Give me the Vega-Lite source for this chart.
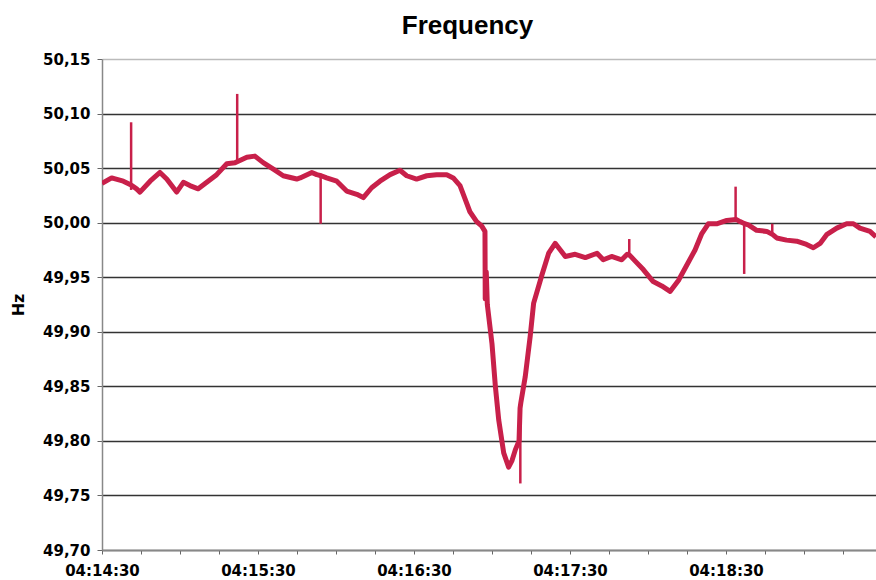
{
  "$schema": "https://vega.github.io/schema/vega-lite/v6.json",
  "autosize": {"type": "none"},
  "width": 774,
  "height": 491,
  "padding": {"left": 102, "top": 59, "right": 0, "bottom": 30},
  "background": "white",
  "title": {"text": "Frequency", "font": "Liberation Sans", "fontSize": 26, "fontWeight": "bold", "color": "black", "anchor": "middle", "dx": -21.5, "offset": 13},
  "config": {"view": {"stroke": null}},
  "datasets": {
    "freq": [
      {"t": "2024-01-01T04:14:30.000", "hz": 50.036},
      {"t": "2024-01-01T04:14:33.700", "hz": 50.041},
      {"t": "2024-01-01T04:14:38.200", "hz": 50.038},
      {"t": "2024-01-01T04:14:40.800", "hz": 50.035},
      {"t": "2024-01-01T04:14:41.500", "hz": 50.034},
      {"t": "2024-01-01T04:14:43.300", "hz": 50.031},
      {"t": "2024-01-01T04:14:44.600", "hz": 50.028},
      {"t": "2024-01-01T04:14:48.500", "hz": 50.038},
      {"t": "2024-01-01T04:14:52.300", "hz": 50.046},
      {"t": "2024-01-01T04:14:54.900", "hz": 50.040},
      {"t": "2024-01-01T04:14:58.700", "hz": 50.028},
      {"t": "2024-01-01T04:15:01.300", "hz": 50.037},
      {"t": "2024-01-01T04:15:03.800", "hz": 50.034},
      {"t": "2024-01-01T04:15:07.000", "hz": 50.031},
      {"t": "2024-01-01T04:15:10.300", "hz": 50.037},
      {"t": "2024-01-01T04:15:14.100", "hz": 50.044},
      {"t": "2024-01-01T04:15:18.000", "hz": 50.054},
      {"t": "2024-01-01T04:15:21.200", "hz": 50.055},
      {"t": "2024-01-01T04:15:22.200", "hz": 50.056},
      {"t": "2024-01-01T04:15:25.700", "hz": 50.060},
      {"t": "2024-01-01T04:15:28.800", "hz": 50.061},
      {"t": "2024-01-01T04:15:32.000", "hz": 50.055},
      {"t": "2024-01-01T04:15:35.900", "hz": 50.049},
      {"t": "2024-01-01T04:15:39.700", "hz": 50.043},
      {"t": "2024-01-01T04:15:44.900", "hz": 50.040},
      {"t": "2024-01-01T04:15:46.200", "hz": 50.041},
      {"t": "2024-01-01T04:15:50.700", "hz": 50.046},
      {"t": "2024-01-01T04:15:52.600", "hz": 50.044},
      {"t": "2024-01-01T04:15:54.300", "hz": 50.043},
      {"t": "2024-01-01T04:15:56.400", "hz": 50.041},
      {"t": "2024-01-01T04:16:00.300", "hz": 50.038},
      {"t": "2024-01-01T04:16:04.100", "hz": 50.029},
      {"t": "2024-01-01T04:16:08.000", "hz": 50.026},
      {"t": "2024-01-01T04:16:10.500", "hz": 50.023},
      {"t": "2024-01-01T04:16:13.700", "hz": 50.032},
      {"t": "2024-01-01T04:16:16.900", "hz": 50.038},
      {"t": "2024-01-01T04:16:20.800", "hz": 50.044},
      {"t": "2024-01-01T04:16:24.600", "hz": 50.048},
      {"t": "2024-01-01T04:16:27.200", "hz": 50.043},
      {"t": "2024-01-01T04:16:31.000", "hz": 50.040},
      {"t": "2024-01-01T04:16:34.900", "hz": 50.043},
      {"t": "2024-01-01T04:16:38.700", "hz": 50.044},
      {"t": "2024-01-01T04:16:42.600", "hz": 50.044},
      {"t": "2024-01-01T04:16:45.100", "hz": 50.041},
      {"t": "2024-01-01T04:16:47.700", "hz": 50.034},
      {"t": "2024-01-01T04:16:49.600", "hz": 50.022},
      {"t": "2024-01-01T04:16:51.500", "hz": 50.010},
      {"t": "2024-01-01T04:16:54.100", "hz": 50.001},
      {"t": "2024-01-01T04:16:56.000", "hz": 49.997},
      {"t": "2024-01-01T04:16:57.300", "hz": 49.992},
      {"t": "2024-01-01T04:16:57.400", "hz": 49.930},
      {"t": "2024-01-01T04:16:57.800", "hz": 49.955},
      {"t": "2024-01-01T04:16:58.200", "hz": 49.925},
      {"t": "2024-01-01T04:17:00.000", "hz": 49.889},
      {"t": "2024-01-01T04:17:01.300", "hz": 49.850},
      {"t": "2024-01-01T04:17:02.600", "hz": 49.819},
      {"t": "2024-01-01T04:17:04.500", "hz": 49.789},
      {"t": "2024-01-01T04:17:06.400", "hz": 49.776},
      {"t": "2024-01-01T04:17:07.700", "hz": 49.782},
      {"t": "2024-01-01T04:17:09.000", "hz": 49.792},
      {"t": "2024-01-01T04:17:10.400", "hz": 49.800},
      {"t": "2024-01-01T04:17:10.800", "hz": 49.830},
      {"t": "2024-01-01T04:17:11.100", "hz": 49.835},
      {"t": "2024-01-01T04:17:12.800", "hz": 49.859},
      {"t": "2024-01-01T04:17:14.700", "hz": 49.896},
      {"t": "2024-01-01T04:17:16.000", "hz": 49.926},
      {"t": "2024-01-01T04:17:19.200", "hz": 49.952},
      {"t": "2024-01-01T04:17:21.800", "hz": 49.972},
      {"t": "2024-01-01T04:17:24.300", "hz": 49.981},
      {"t": "2024-01-01T04:17:26.300", "hz": 49.975},
      {"t": "2024-01-01T04:17:28.200", "hz": 49.969},
      {"t": "2024-01-01T04:17:32.000", "hz": 49.971},
      {"t": "2024-01-01T04:17:35.900", "hz": 49.968},
      {"t": "2024-01-01T04:17:40.400", "hz": 49.972},
      {"t": "2024-01-01T04:17:42.800", "hz": 49.966},
      {"t": "2024-01-01T04:17:46.000", "hz": 49.969},
      {"t": "2024-01-01T04:17:49.900", "hz": 49.966},
      {"t": "2024-01-01T04:17:52.000", "hz": 49.971},
      {"t": "2024-01-01T04:17:53.000", "hz": 49.970},
      {"t": "2024-01-01T04:17:55.000", "hz": 49.965},
      {"t": "2024-01-01T04:17:58.200", "hz": 49.957},
      {"t": "2024-01-01T04:18:02.000", "hz": 49.946},
      {"t": "2024-01-01T04:18:05.300", "hz": 49.942},
      {"t": "2024-01-01T04:18:08.500", "hz": 49.937},
      {"t": "2024-01-01T04:18:11.700", "hz": 49.947},
      {"t": "2024-01-01T04:18:14.900", "hz": 49.961},
      {"t": "2024-01-01T04:18:18.100", "hz": 49.975},
      {"t": "2024-01-01T04:18:20.700", "hz": 49.990},
      {"t": "2024-01-01T04:18:23.200", "hz": 49.999},
      {"t": "2024-01-01T04:18:26.400", "hz": 49.999},
      {"t": "2024-01-01T04:18:30.300", "hz": 50.002},
      {"t": "2024-01-01T04:18:33.900", "hz": 50.003},
      {"t": "2024-01-01T04:18:35.400", "hz": 50.001},
      {"t": "2024-01-01T04:18:37.200", "hz": 49.999},
      {"t": "2024-01-01T04:18:38.600", "hz": 49.998},
      {"t": "2024-01-01T04:18:41.800", "hz": 49.993},
      {"t": "2024-01-01T04:18:45.700", "hz": 49.992},
      {"t": "2024-01-01T04:18:48.000", "hz": 49.989},
      {"t": "2024-01-01T04:18:49.500", "hz": 49.986},
      {"t": "2024-01-01T04:18:53.300", "hz": 49.984},
      {"t": "2024-01-01T04:18:57.200", "hz": 49.983},
      {"t": "2024-01-01T04:19:01.000", "hz": 49.980},
      {"t": "2024-01-01T04:19:03.600", "hz": 49.977},
      {"t": "2024-01-01T04:19:06.200", "hz": 49.981},
      {"t": "2024-01-01T04:19:08.700", "hz": 49.989},
      {"t": "2024-01-01T04:19:12.600", "hz": 49.995},
      {"t": "2024-01-01T04:19:16.400", "hz": 49.999},
      {"t": "2024-01-01T04:19:19.000", "hz": 49.999},
      {"t": "2024-01-01T04:19:21.500", "hz": 49.995},
      {"t": "2024-01-01T04:19:25.400", "hz": 49.992},
      {"t": "2024-01-01T04:19:27.700", "hz": 49.987}
    ],
    "spikes": [
      {"t": "2024-01-01T04:14:41.200", "lo": 50.030, "hi": 50.092},
      {"t": "2024-01-01T04:15:22.000", "lo": 50.055, "hi": 50.118},
      {"t": "2024-01-01T04:15:54.100", "lo": 49.999, "hi": 50.044},
      {"t": "2024-01-01T04:17:10.900", "lo": 49.761, "hi": 49.830},
      {"t": "2024-01-01T04:17:52.800", "lo": 49.970, "hi": 49.985},
      {"t": "2024-01-01T04:18:33.700", "lo": 50.003, "hi": 50.033},
      {"t": "2024-01-01T04:18:37.000", "lo": 49.953, "hi": 50.000},
      {"t": "2024-01-01T04:18:47.800", "lo": 49.989, "hi": 49.999}
    ]
  },
  "layer": [
    {
      "data": {"name": "freq"},
      "mark": {"type": "line", "color": "#C8204A", "strokeWidth": 5, "strokeJoin": "round", "clip": true},
      "encoding": {
        "x": {
          "field": "t", "type": "temporal",
          "scale": {"domain": [
            {"year": 2024, "month": 1, "date": 1, "hours": 4, "minutes": 14, "seconds": 30},
            {"year": 2024, "month": 1, "date": 1, "hours": 4, "minutes": 19, "seconds": 27, "milliseconds": 700}
          ], "nice": false},
          "axis": {
            "title": null, "grid": false,
            "values": [
              {"year": 2024, "month": 1, "date": 1, "hours": 4, "minutes": 14, "seconds": 30},
              {"year": 2024, "month": 1, "date": 1, "hours": 4, "minutes": 14, "seconds": 45},
              {"year": 2024, "month": 1, "date": 1, "hours": 4, "minutes": 15, "seconds": 0},
              {"year": 2024, "month": 1, "date": 1, "hours": 4, "minutes": 15, "seconds": 15},
              {"year": 2024, "month": 1, "date": 1, "hours": 4, "minutes": 15, "seconds": 30},
              {"year": 2024, "month": 1, "date": 1, "hours": 4, "minutes": 15, "seconds": 45},
              {"year": 2024, "month": 1, "date": 1, "hours": 4, "minutes": 16, "seconds": 0},
              {"year": 2024, "month": 1, "date": 1, "hours": 4, "minutes": 16, "seconds": 15},
              {"year": 2024, "month": 1, "date": 1, "hours": 4, "minutes": 16, "seconds": 30},
              {"year": 2024, "month": 1, "date": 1, "hours": 4, "minutes": 16, "seconds": 45},
              {"year": 2024, "month": 1, "date": 1, "hours": 4, "minutes": 17, "seconds": 0},
              {"year": 2024, "month": 1, "date": 1, "hours": 4, "minutes": 17, "seconds": 15},
              {"year": 2024, "month": 1, "date": 1, "hours": 4, "minutes": 17, "seconds": 30},
              {"year": 2024, "month": 1, "date": 1, "hours": 4, "minutes": 17, "seconds": 45},
              {"year": 2024, "month": 1, "date": 1, "hours": 4, "minutes": 18, "seconds": 0},
              {"year": 2024, "month": 1, "date": 1, "hours": 4, "minutes": 18, "seconds": 15},
              {"year": 2024, "month": 1, "date": 1, "hours": 4, "minutes": 18, "seconds": 30},
              {"year": 2024, "month": 1, "date": 1, "hours": 4, "minutes": 18, "seconds": 45},
              {"year": 2024, "month": 1, "date": 1, "hours": 4, "minutes": 19, "seconds": 0},
              {"year": 2024, "month": 1, "date": 1, "hours": 4, "minutes": 19, "seconds": 15}
            ],
            "format": "%H:%M:%S",
            "labelExpr": "timeFormat(datum.value, '%S') == '30' ? datum.label : ''",
            "labelOverlap": false, "labelFlush": false,
            "labelFont": "DejaVu Sans", "labelFontWeight": "bold", "labelFontSize": 15, "labelColor": "black",
            "labelPadding": 9,
            "tickSize": 4, "tickColor": "#666", "domainColor": "#888", "domainWidth": 1.5
          }
        },
        "y": {
          "field": "hz", "type": "quantitative",
          "scale": {"domain": [49.70, 50.15], "nice": false, "zero": false},
          "axis": {
            "title": "Hz", "titleFont": "DejaVu Sans", "titleFontWeight": "bold", "titleFontSize": 16, "titleColor": "black",
            "titlePadding": 16,
            "values": [49.70, 49.75, 49.80, 49.85, 49.90, 49.95, 50.00, 50.05, 50.10, 50.15],
            "format": ".2f",
            "labelExpr": "replace(datum.label, '.', ',')",
            "labelFont": "DejaVu Sans", "labelFontWeight": "bold", "labelFontSize": 15, "labelColor": "black",
            "labelPadding": 7, "tickSize": 5, "tickColor": "#666",
            "domainColor": "#888", "domainWidth": 1.5,
            "grid": true,
            "gridColor": {"condition": {"test": "datum.value > 50.14", "value": "#bbbbbb"}, "value": "#333333"},
            "gridWidth": 1.5
          }
        }
      }
    },
    {
      "data": {"name": "spikes"},
      "mark": {"type": "rule", "color": "#C8204A", "strokeWidth": 2.5, "clip": true},
      "encoding": {
        "x": {"field": "t", "type": "temporal"},
        "y": {"field": "lo", "type": "quantitative", "title": "Hz"},
        "y2": {"field": "hi"}
      }
    }
  ]
}
